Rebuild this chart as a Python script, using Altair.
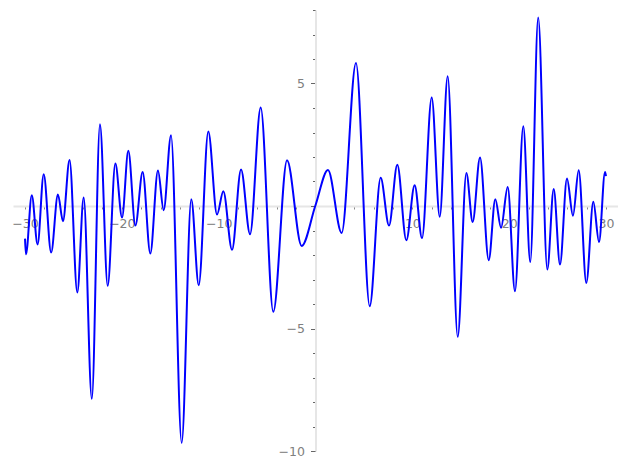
import altair as alt
import pandas as pd

# extrema / key points
xs = [-30.0, -29.9, -29.3, -28.7, -28.07, -27.3, -26.6, -26.08, -25.4, -24.6,
      -23.94, -23.1, -22.26, -21.46, -20.67, -19.98, -19.33, -18.6, -17.85, -17.06,
      -16.27, -15.68, -14.92, -13.82, -12.83, -12.06, -11.07, -10.17, -9.52, -8.62,
      -7.69, -6.76, -5.66, -4.36, -2.94, -1.43, 0.0, 1.29, 2.7, 4.18,
      5.6, 6.73, 7.59, 8.45, 9.38, 10.24, 11.0, 12.0, 12.83, 13.65,
      14.69, 15.58, 16.23, 16.99, 17.89, 18.57, 19.16, 19.85, 20.6, 21.46,
      22.18, 23.0, 23.94, 24.6, 25.25, 25.97, 26.59, 27.18, 27.97, 28.69,
      29.28, 29.9, 30.0]
ys = [-1.33, -1.97, 0.44, -1.57, 1.30, -1.90, 0.47, -0.62, 1.88, -3.53,
      0.35, -7.87, 3.34, -3.26, 1.73, -0.47, 2.25, -0.80, 1.39, -1.94,
      1.45, -0.17, 2.89, -9.67, 0.28, -3.23, 3.04, -0.35, 0.60, -1.79,
      1.49, -1.15, 4.02, -4.32, 1.87, -1.63, 0.03, 1.47, -1.10, 5.84,
      -4.09, 1.15, -0.80, 1.68, -1.40, 0.85, -1.31, 4.43, -0.44, 5.30,
      -5.34, 1.35, -0.65, 1.98, -2.21, 0.28, -0.89, 0.78, -3.48, 3.26,
      -2.29, 7.69, -2.59, 0.69, -2.39, 1.12, -0.40, 1.46, -3.14, 0.17,
      -1.47, 1.39, 1.22]

x_ticks = list(range(-30, 31, 2))
y_ticks = list(range(-10, 9, 1))

df = pd.DataFrame({"x": xs, "y": ys})

W, H = 605, 441
x_dom = [-31.24, 31.24]
y_dom = [-10, 8]

label_font = "DejaVu Sans"

x_axis = alt.Axis(
    title=None,
    values=x_ticks,
    offset=-245,
    domainColor="#e6e6e6",
    domainWidth=2,
    tickColor="#888888",
    tickSize=3,
    tickWidth=1,
    labelExpr="(datum.value % 10 == 0 && datum.value != 0) ? replace(format(datum.value, 'd'), '-', '\u2212') : ''",
    labelFont=label_font,
    labelFontSize=12.5,
    labelColor="#808080",
    labelPadding=8,
    labelOverlap=False,
    labelFlush=False,
    grid=False,
)

y_axis = alt.Axis(
    title=None,
    values=y_ticks,
    offset=-302.5,
    domainColor="#e6e6e6",
    domainWidth=2,
    tickColor="#666666",
    tickSize={"condition": {"test": "datum.value % 5 == 0", "value": 5}, "value": 3},
    tickWidth=1,
    labelExpr="(datum.value % 5 == 0 && datum.value != 0) ? replace(format(datum.value, 'd'), '-', '\u2212') : ''",
    labelFont=label_font,
    labelFontSize=12.5,
    labelColor="#808080",
    labelPadding=6,
    labelOverlap=False,
    labelFlush=False,
    grid=False,
)

chart = alt.Chart(df).mark_line(
    color="#0000ff", strokeWidth=2, interpolate="monotone"
).encode(
    x=alt.X("x:Q", scale=alt.Scale(domain=x_dom, nice=False, zero=False), axis=x_axis),
    y=alt.Y("y:Q", scale=alt.Scale(domain=y_dom, nice=False, zero=False), axis=y_axis),
).properties(
    width=W,
    height=H,
    background="white",
    autosize=alt.AutoSizeParams(type="none"),
    padding={"left": 5, "top": 2, "right": 0, "bottom": 8},
).configure_view(
    stroke=None
)

chart.save("out.html", embed_options={"renderer": "svg", "actions": False})
